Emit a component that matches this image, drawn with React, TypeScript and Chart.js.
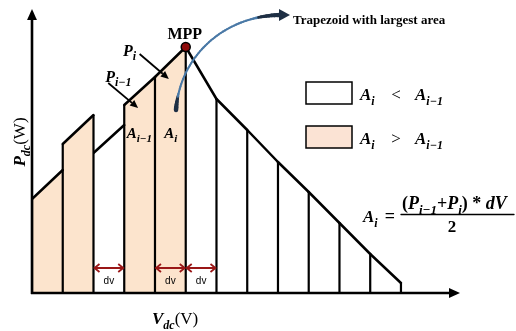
import { useEffect, useRef } from "react";
import { Chart, registerables } from "chart.js";

Chart.register(...registerables);

// Voltage steps (in units of dv) where the P–V curve is sampled
const voltageSteps = [0, 1, 2, 3, 4, 5, 6, 7, 8, 9, 10, 11, 12];
// Power at the left and right edge of each trapezoid strip
const stripLeftPower = [94, 149, 140, 188, 216, 246, 194, 163, 131, 101, 70, 39];
const stripRightPower = [123, 178, 168, 216, 246, 194, 163, 131, 101, 70, 39, 10];
// true where the strip's area grew compared with the previous strip
const stripGrowing = [true, true, false, true, true, false, false, false, false, false, false, false];
// Maximum power point (step index)
const mppIndex = 5;
// Strips that carry a dv dimension arrow
const dvStrips = [2, 4, 5];

const V_MAX = 13.92;
const P_MAX = 284;

const PEACH = "rgb(252, 228, 205)";
const LEGEND_PEACH = "rgb(251, 227, 212)";
const DARK_RED = "#9a1717";
const SERIF = "'Liberation Serif', 'DejaVu Serif', serif";
const SANS = "'Liberation Sans', Arial, sans-serif";

type Run = { t: string; sub?: boolean; italic?: boolean; bold?: boolean };

function runFont(r: Run, size: number) {
  const s = r.sub ? Math.round(size * 0.72) : size;
  return `${r.italic === false ? "" : "italic "}${r.bold === false ? "" : "bold "}${s}px ${SERIF}`;
}

function measureRuns(ctx: CanvasRenderingContext2D, runs: Run[], size: number) {
  let w = 0;
  for (const r of runs) {
    ctx.font = runFont(r, size);
    w += ctx.measureText(r.t).width;
  }
  return w;
}

function drawRuns(
  ctx: CanvasRenderingContext2D,
  runs: Run[],
  x: number,
  y: number,
  size: number,
  align: "left" | "center" = "left"
) {
  const w = measureRuns(ctx, runs, size);
  let cx = align === "center" ? x - w / 2 : x;
  ctx.textAlign = "left";
  ctx.textBaseline = "alphabetic";
  for (const r of runs) {
    ctx.font = runFont(r, size);
    ctx.fillText(r.t, cx, r.sub ? y + size * 0.28 : y);
    cx += ctx.measureText(r.t).width;
  }
  return w;
}

function filledArrow(
  ctx: CanvasRenderingContext2D,
  x1: number,
  y1: number,
  x2: number,
  y2: number,
  width: number,
  head: number
) {
  const a = Math.atan2(y2 - y1, x2 - x1);
  const bx = x2 - head * Math.cos(a);
  const by = y2 - head * Math.sin(a);
  ctx.beginPath();
  ctx.moveTo(x1, y1);
  ctx.lineTo(bx, by);
  ctx.lineWidth = width;
  ctx.stroke();
  ctx.beginPath();
  ctx.moveTo(x2, y2);
  ctx.lineTo(bx + head * 0.45 * Math.sin(a), by - head * 0.45 * Math.cos(a));
  ctx.lineTo(bx - head * 0.45 * Math.sin(a), by + head * 0.45 * Math.cos(a));
  ctx.closePath();
  ctx.fill();
}

const sub = (t: string): Run => ({ t, sub: true });
const bi = (t: string): Run => ({ t });
const reg = (t: string): Run => ({ t, italic: false, bold: false });
const bold = (t: string): Run => ({ t, italic: false });

const decorations = {
  id: "decorations",
  afterDatasetsDraw(chart: Chart) {
    const ctx = chart.ctx;
    const xs = chart.scales.x;
    const ys = chart.scales.y;
    const px = (v: number) => xs.getPixelForValue(v);
    const py = (p: number) => ys.getPixelForValue(p);
    const area = chart.chartArea;
    ctx.save();

    // axes with arrow heads
    ctx.strokeStyle = "#000";
    ctx.fillStyle = "#000";
    ctx.lineCap = "butt";
    filledArrow(ctx, area.left, py(0) + 1, area.left, area.top, 2.6, 11);
    filledArrow(ctx, area.left - 1, py(0), area.right, py(0), 2.6, 11);

    // dv dimension arrows
    ctx.strokeStyle = DARK_RED;
    ctx.lineWidth = 1.8;
    for (const s of dvStrips) {
      const x1 = px(voltageSteps[s]) + 1;
      const x2 = px(voltageSteps[s + 1]) - 1;
      const y = py(25);
      ctx.beginPath();
      ctx.moveTo(x1, y);
      ctx.lineTo(x2, y);
      ctx.moveTo(x1 + 5, y - 4);
      ctx.lineTo(x1, y);
      ctx.lineTo(x1 + 5, y + 4);
      ctx.moveTo(x2 - 5, y - 4);
      ctx.lineTo(x2, y);
      ctx.lineTo(x2 - 5, y + 4);
      ctx.stroke();
      ctx.fillStyle = "#000";
      ctx.font = `10px ${SANS}`;
      ctx.textAlign = "center";
      ctx.textBaseline = "alphabetic";
      ctx.fillText("dv", (x1 + x2) / 2, py(9));
    }

    // labels inside the plot
    ctx.fillStyle = "#000";
    ctx.strokeStyle = "#000";
    drawRuns(ctx, [bi("P"), sub("i")], px(2.96), py(237), 16);
    drawRuns(ctx, [bi("P"), sub("i\u22121")], px(2.38), py(211), 16);
    filledArrow(ctx, px(3.5), py(239), px(4.45), py(214), 1.8, 8);
    filledArrow(ctx, px(2.48), py(210), px(3.45), py(185), 1.8, 8);
    drawRuns(ctx, [bi("A"), sub("i\u22121")], px(3.08), py(155), 15);
    drawRuns(ctx, [bi("A"), sub("i")], px(4.3), py(155), 15);

    // MPP caption
    const mx = px(voltageSteps[mppIndex]);
    const my = py(stripRightPower[mppIndex - 1]);
    ctx.font = `bold 16px ${SERIF}`;
    ctx.textAlign = "center";
    ctx.fillText("MPP", mx - 1, my - 8);

    // curved pointer to the largest trapezoid
    const P0 = [176, 110], P1 = [180, 55], P2 = [225, 16], P3 = [280, 15];
    const bez = (t: number) => {
      const u = 1 - t;
      return [
        u * u * u * P0[0] + 3 * u * u * t * P1[0] + 3 * u * t * t * P2[0] + t * t * t * P3[0],
        u * u * u * P0[1] + 3 * u * u * t * P1[1] + 3 * u * t * t * P2[1] + t * t * t * P3[1],
      ];
    };
    const N = 60;
    ctx.lineCap = "round";
    for (let k = 0; k < N; k++) {
      const t0 = k / N, t1 = (k + 1) / N;
      const a = bez(t0), b = bez(t1);
      const head = Math.max(0, (t0 - 0.8) / 0.2);
      const tail = Math.max(0, (0.1 - t0) / 0.1);
      ctx.lineWidth = 2 + 2.5 * head + 2.5 * tail;
      ctx.strokeStyle = head > 0.3 || tail > 0.3 ? "#1e2f44" : "#4a79a6";
      ctx.beginPath();
      ctx.moveTo(a[0], a[1]);
      ctx.lineTo(b[0], b[1]);
      ctx.stroke();
    }
    ctx.fillStyle = "#1e2f44";
    ctx.beginPath();
    ctx.moveTo(279, 9);
    ctx.lineTo(290, 15);
    ctx.lineTo(279, 21);
    ctx.closePath();
    ctx.fill();

    ctx.fillStyle = "#000";
    ctx.font = `bold 13px ${SERIF}`;
    ctx.textAlign = "left";
    ctx.fillText("Trapezoid with largest area", 293, 24);

    // legend
    ctx.lineWidth = 1.5;
    ctx.strokeStyle = "#000";
    ctx.fillStyle = "#fff";
    ctx.fillRect(306, 82, 46, 22);
    ctx.strokeRect(306, 82, 46, 22);
    ctx.fillStyle = LEGEND_PEACH;
    ctx.fillRect(306, 126, 46, 22);
    ctx.strokeRect(306, 126, 46, 22);
    ctx.fillStyle = "#000";
    drawRuns(ctx, [bi("A"), sub("i")], 360, 100, 17);
    drawRuns(ctx, [reg("<")], 396, 100, 17, "center");
    drawRuns(ctx, [bi("A"), sub("i\u22121")], 415, 100, 17);
    drawRuns(ctx, [bi("A"), sub("i")], 360, 144, 17);
    drawRuns(ctx, [reg(">")], 396, 144, 17, "center");
    drawRuns(ctx, [bi("A"), sub("i\u22121")], 415, 144, 17);

    // trapezoid area formula
    drawRuns(ctx, [bi("A"), sub("i")], 363, 222, 17);
    drawRuns(ctx, [bold("=")], 390, 222, 18, "center");
    const num: Run[] = [bold("("), bi("P"), sub("i\u22121"), bold("+"), bi("P"), sub("i"), bold(")"), bold(" * "), bi("dV")];
    let fs = 18;
    const w = measureRuns(ctx, num, fs);
    if (w > 111) fs = (fs * 111) / w;
    drawRuns(ctx, num, 402, 209, fs);
    ctx.lineWidth = 1.3;
    ctx.beginPath();
    ctx.moveTo(401, 214.5);
    ctx.lineTo(514, 214.5);
    ctx.stroke();
    drawRuns(ctx, [bold("2")], 452, 232, 17, "center");

    // axis titles
    drawRuns(ctx, [bi("V"), sub("dc"), reg("(V)")], 152, 324, 17);
    ctx.save();
    ctx.translate(25, 142);
    ctx.rotate(-Math.PI / 2);
    drawRuns(ctx, [bi("P"), sub("dc"), reg("(W)")], 0, 0, 17, "center");
    ctx.restore();

    ctx.restore();
  },
};

export default function App() {
  const ref = useRef<HTMLCanvasElement>(null);

  useEffect(() => {
    if (!ref.current) return;

    // strip outlines, filled where the area grows
    const stripSets = stripLeftPower.map((left, i) => ({
      type: "line" as const,
      data: [
        { x: voltageSteps[i], y: left },
        { x: voltageSteps[i + 1], y: stripRightPower[i] },
      ],
      borderColor: "#000",
      borderWidth: 2.5,
      borderCapStyle: "round" as const,
      backgroundColor: PEACH,
      fill: stripGrowing[i] ? "origin" : false,
      pointRadius: 0,
      order: 3,
    }));

    // vertical sampling lines at each voltage step
    const verticals: { x: number; y: number | null }[] = [];
    voltageSteps.forEach((v, i) => {
      const h = Math.max(i > 0 ? stripRightPower[i - 1] : 0, i < stripLeftPower.length ? stripLeftPower[i] : 0);
      verticals.push({ x: v, y: 0 }, { x: v, y: h }, { x: v, y: null });
    });

    const chart = new Chart(ref.current, {
      type: "line",
      data: {
        datasets: [
          {
            type: "scatter" as const,
            data: [{ x: voltageSteps[mppIndex], y: stripRightPower[mppIndex - 1] }],
            pointRadius: 4.5,
            pointBackgroundColor: "#8e0b0b",
            pointBorderColor: "#000",
            pointBorderWidth: 1.5,
            order: 0,
          },
          {
            type: "line" as const,
            data: verticals,
            borderColor: "#000",
            borderWidth: 2.2,
            pointRadius: 0,
            spanGaps: false,
            fill: false,
            order: 1,
          },
          ...stripSets,
        ] as any,
      },
      options: {
        responsive: false,
        devicePixelRatio: 1,
        animation: false,
        layout: { padding: { left: 32, right: 56, top: 9, bottom: 38 } },
        scales: {
          x: { type: "linear", min: 0, max: V_MAX, display: false },
          y: { type: "linear", min: 0, max: P_MAX, display: false },
        },
        plugins: { legend: { display: false }, tooltip: { enabled: false } },
        elements: { line: { tension: 0 } },
      },
      plugins: [decorations],
    });

    return () => chart.destroy();
  }, []);

  return (
    <div style={{ position: "absolute", left: 0, top: 0, width: 516, height: 331, background: "#fff" }}>
      <canvas ref={ref} width={516} height={331} style={{ display: "block" }} />
    </div>
  );
}
